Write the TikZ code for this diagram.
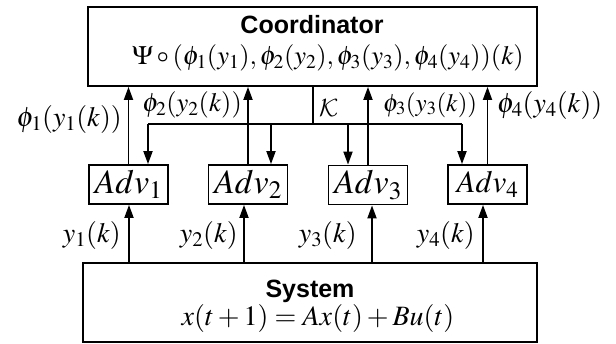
\documentclass[tikz,border=0pt]{standalone}
\usepackage{mathptmx}
\usepackage[no-math]{fontspec}
\setsansfont{Liberation Sans}
\DeclareMathAlphabet{\mathcal}{OMS}{cmsy}{m}{n}
\newcommand{\boldcirc}{\mathbin{\vcenter{\hbox{\fontencoding{OMS}\fontfamily{cmsy}\fontseries{b}\fontsize{22}{22}\selectfont\char14}}}}
\usetikzlibrary{arrows.meta}
\tikzset{
  box/.style={draw, line width=1.8pt, inner sep=0pt},
  advbox/.style={box, minimum width=79pt, minimum height=39pt, font=\fontsize{34}{36}\selectfont},
  conn/.style={line width=1.8pt},
  arr/.style={conn, -{Triangle[length=13pt,width=9pt]}},
  lbl/.style={inner sep=0pt, font=\fontsize{28}{30}\selectfont},
  ttl/.style={inner sep=0pt, font=\fontsize{25}{28}\selectfont\sffamily\bfseries},
}
\begin{document}
\begin{tikzpicture}[x=1pt,y=-1pt]
\useasboundingbox (0,0) rectangle (616,343);
% boxes
\node[box, minimum width=449pt, minimum height=79pt] (coord) at (312.5,46.5) {};
\node[ttl] (coordT) at (312,25) {Coordinator};
\node[lbl, font=\fontsize{26.5}{30}\selectfont, anchor=base] (coordF) at (328,64) {$\Psi\boldcirc(\phi_1(y_1),\phi_2(y_2),\phi_3(y_3),\phi_4(y_4))(k)$};
\node[advbox] (adv1) at (128.5,184.5) {$Adv_1$};
\node[advbox] (adv2) at (248,184.5) {$Adv_2$};
\node[advbox] (adv3) at (368,185) {$Adv_3$};
\node[advbox, font=\fontsize{31}{34}\selectfont] (adv4) at (487.5,184.5) {$Adv_4$};
\node[box, minimum width=454pt, minimum height=79pt] (sys) at (310,302.5) {};
\node[ttl] (sysT) at (310,291) {System};
\node[lbl, anchor=base] (sysF) at (318,325) {$x(t+1) = Ax(t) + Bu(t)$};
% upward arrows to coordinator
\draw[arr] (adv1.north) -- (adv1.north |- coord.south);
\draw[arr] (adv2.north) -- (adv2.north |- coord.south);
\draw[arr] (adv3.north) -- (adv3.north |- coord.south);
\draw[arr] (adv4.north) -- (adv4.north |- coord.south);
% K distribution
\coordinate (kc) at (313,124);
\coordinate (d1) at (148,124);
\coordinate (d2) at (271,124);
\coordinate (d3) at (348,124);
\coordinate (d4) at (462,124);
\draw[conn] (kc |- coord.south) -- (kc);
\draw[conn] (d1) -- (d4);
\draw[arr] (d1) -- (d1 |- adv1.north);
\draw[arr] (d2) -- (d2 |- adv2.north);
\draw[arr] (d3) -- (d3 |- adv3.north);
\draw[arr] (d4) -- (d4 |- adv4.north);
% system outputs
\coordinate (u1) at (129,263);
\coordinate (u2) at (244,263);
\coordinate (u3) at (372,263);
\coordinate (u4) at (483,263);
\draw[arr] (u1 |- sys.north) -- (u1 |- adv1.south);
\draw[arr] (u2 |- sys.north) -- (u2 |- adv2.south);
\draw[arr] (u3 |- sys.north) -- (u3 |- adv3.south);
\draw[arr] (u4 |- sys.north) -- (u4 |- adv4.south);
% labels
\node[lbl, anchor=base east] (l1) at (122,126) {$\phi_1(y_1(k))$};
\node[lbl, font=\fontsize{26.5}{28}\selectfont, anchor=base east] (l2) at (242,111) {$\phi_2(y_2(k))$};
\node[lbl, font=\fontsize{25}{26}\selectfont, anchor=base west] (l3) at (383,111) {$\phi_3(y_3(k))$};
\node[lbl, anchor=base west] (l4) at (497,112) {$\phi_4(y_4(k))$};
\node[lbl, anchor=base west] (lk) at (319,116) {$\mathcal{K}$};
\node[lbl, anchor=base east] (m1) at (121,242) {$y_1(k)$};
\node[lbl, anchor=base east] (m2) at (238,242) {$y_2(k)$};
\node[lbl, anchor=base east] (m3) at (357,242) {$y_3(k)$};
\node[lbl, anchor=base east] (m4) at (475,242) {$y_4(k)$};
\end{tikzpicture}
\end{document}
